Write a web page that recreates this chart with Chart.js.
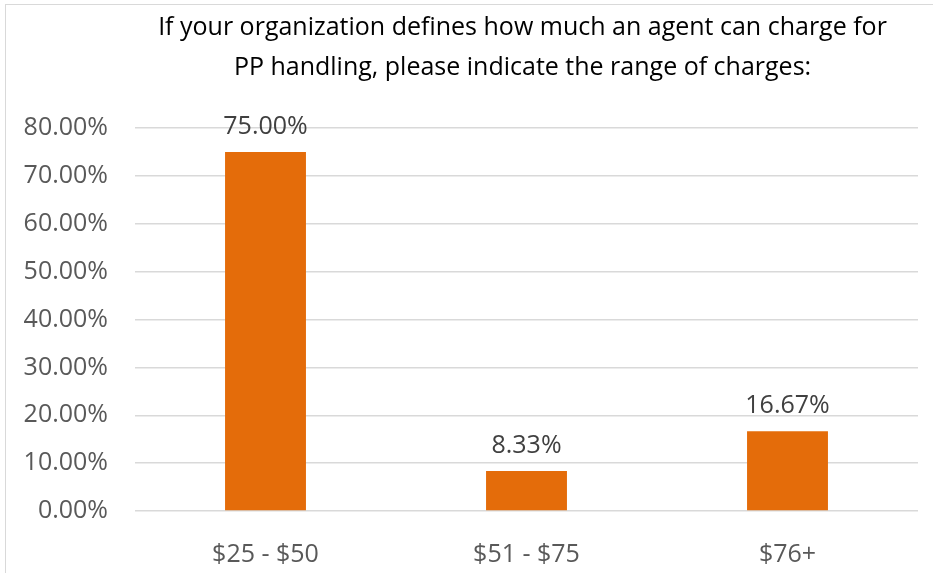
<!DOCTYPE html>
<html>
<head>
<meta charset="utf-8">
<script src="https://cdn.jsdelivr.net/npm/chart.js@4"></script>
<style>
  body { margin: 0; background: #fff; }
  #moldura { position: absolute; left: 5px; top: 4px; width: 940px; height: 600px; border: 1px solid #d9d9d9; }
  #grafico { position: absolute; left: 0; top: 0; }
</style>
</head>
<body>
<div id="moldura"></div>
<canvas id="grafico" width="933" height="573"></canvas>
<script>
// Dados do gráfico
const categorias = ['$25 - $50', '$51 - $75', '$76+'];
const valores = [0.75, 0.0833, 0.1667];
const rotulosValores = ['75.00%', '8.33%', '16.67%'];
const titulo = ['If your organization defines how much an agent can charge for', 'PP handling, please indicate the range of charges:'];

const fonte = "'Open Sans', 'Noto Sans', sans-serif";

// Título desenhado centralizado sobre a área do gráfico
const pluginTitulo = {
  id: 'tituloCentral',
  afterDraw(chart) {
    const ctx = chart.ctx;
    const area = chart.chartArea;
    const cx = (area.left + area.right) / 2 - 4;
    ctx.save();
    ctx.fillStyle = '#000';
    ctx.font = '25px ' + fonte;
    ctx.textAlign = 'center';
    ctx.textBaseline = 'middle';
    ctx.fillText(titulo[0], cx, 28);
    ctx.fillText(titulo[1], cx, 68);
    ctx.restore();
  }
};

// Rótulos de valor acima das barras
const pluginRotulos = {
  id: 'rotulosBarras',
  afterDatasetsDraw(chart) {
    const ctx = chart.ctx;
    const meta = chart.getDatasetMeta(0);
    ctx.save();
    ctx.fillStyle = '#404040';
    ctx.font = '25px ' + fonte;
    ctx.textAlign = 'center';
    ctx.textBaseline = 'middle';
    meta.data.forEach((barra, i) => {
      ctx.fillText(rotulosValores[i], barra.x, barra.y - 25);
    });
    ctx.restore();
  }
};

const ctx = document.getElementById('grafico').getContext('2d');
new Chart(ctx, {
  type: 'bar',
  data: {
    labels: categorias,
    datasets: [{
      data: valores,
      backgroundColor: '#E46C0A',
      borderWidth: 0,
      categoryPercentage: 1,
      barPercentage: 0.31
    }]
  },
  options: {
    responsive: false,
    animation: false,
    layout: { padding: { top: 128, right: 15, bottom: 0, left: 0 } },
    plugins: {
      legend: { display: false },
      tooltip: { enabled: false }
    },
    scales: {
      y: {
        min: 0,
        max: 0.8,
        afterFit(scale) { scale.width = 135; },
        border: { display: false },
        grid: { color: '#d9d9d9', lineWidth: 1.5, drawTicks: false },
        ticks: {
          stepSize: 0.1,
          padding: 27,
          color: '#595959',
          font: { family: fonte, size: 25 },
          callback: v => (v * 100).toFixed(2) + '%'
        }
      },
      x: {
        afterFit(scale) { scale.height = 62; },
        border: { display: false },
        grid: { display: false },
        ticks: {
          padding: 21,
          color: '#595959',
          font: { family: fonte, size: 25 }
        }
      }
    }
  },
  plugins: [pluginTitulo, pluginRotulos]
});
</script>
</body>
</html>
